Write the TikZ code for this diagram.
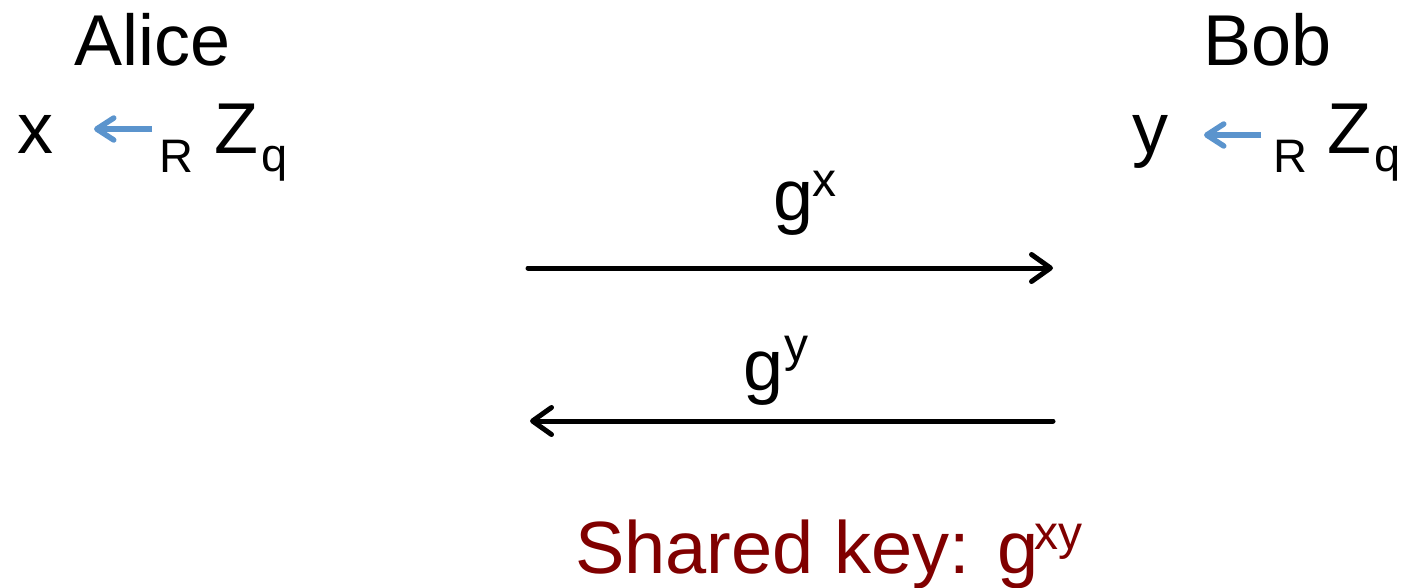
\documentclass[tikz,border=0pt]{standalone}
\usepackage{fontspec}
\setmainfont{Liberation Sans}
\usetikzlibrary{arrows.meta}
\definecolor{arrowblue}{RGB}{91,148,205}
\definecolor{keyred}{RGB}{128,0,0}
\tikzset{
  big/.style={inner sep=0pt, anchor=base west, font=\fontsize{72}{80}\selectfont},
  small/.style={inner sep=0pt, anchor=base west, font=\fontsize{47}{52}\selectfont},
  sup/.style={inner sep=0pt, anchor=base west, font=\fontsize{48}{52}\selectfont},
  keytext/.style={inner sep=0pt, anchor=base west, text=keyred, font=\fontsize{74}{82}\selectfont},
  msg/.style={line width=5pt, line cap=round, -{Straight Barb[length=19pt,width=27pt,line cap=round,line join=round]}},
  sample/.style={draw=arrowblue, line width=5.5pt, -{Straight Barb[length=17pt,width=22pt,line cap=round,line join=round]}}
}
\begin{document}
\begin{tikzpicture}[x=1pt,y=-1pt]
\useasboundingbox (0,0) rectangle (1401,587);
% parties
\node[big] (alice) at (74,65) {Alice};
\node[big] (bob) at (1203,65) {Bob};
% Alice's sampling
\node[big] (xa) at (17,153) {x};
\node[small] (ra) at (159,172) {R};
\node[big] (za) at (214,153) {Z};
\node[small] (qa) at (261,171) {q};
\coordinate (sa1) at (152,129);
\coordinate (sa2) at (94,129);
\draw[sample] (sa1) -- (sa2);
% Bob's sampling
\node[big] (yb) at (1132,153) {y};
\node[small] (rb) at (1273,172) {R};
\node[big] (zb) at (1327,153) {Z};
\node[small] (qb) at (1374,171) {q};
\coordinate (sb1) at (1261,135);
\coordinate (sb2) at (1204,135);
\draw[sample] (sb1) -- (sb2);
% messages
\coordinate (m1a) at (528,268);
\coordinate (m1b) at (1053,268);
\coordinate (m2a) at (1053,421);
\coordinate (m2b) at (530,421);
\draw[msg] (m1a) -- (m1b);
\draw[msg] (m2a) -- (m2b);
\node[big] (gx) at (773,220) {g};
\node[sup] (gxe) at (812,196) {x};
\node[big] (gy) at (743,390) {g};
\node[sup] (gye) at (784,361) {y};
% shared key
\node[keytext] (key) at (575,573) {Shared key: g};
\node[sup, text=keyred] (keye) at (1034,549) {xy};
\end{tikzpicture}
\end{document}
